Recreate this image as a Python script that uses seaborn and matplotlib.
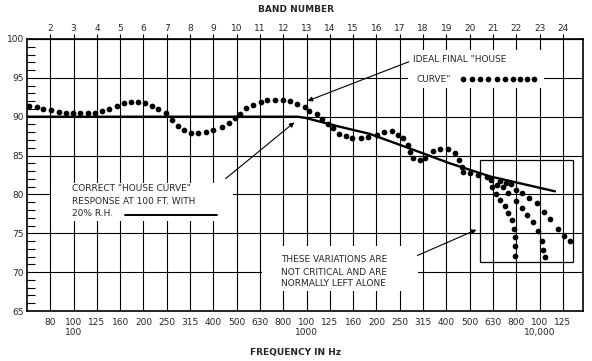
import numpy as np
import pandas as pd
import matplotlib
matplotlib.use('Agg')
import matplotlib.pyplot as plt
from matplotlib.patches import Rectangle
import seaborn as sns

sns.set_style('white')
plt.rcParams['font.family'] = ['DejaVu Sans']

# band numbers (top) and 1/3-octave centre frequencies (bottom)
bands = list(range(2, 25))
freq_labels = ['80', '100\n100', '125', '160', '200', '250', '315', '400', '500', '630', '800',
               '100\n1000', '125', '160', '200', '250', '315', '400', '500', '630', '800',
               '100\n10,000', '125']
db_ticks = list(range(65, 101, 5))

# correct "house curve" (solid line), x in band units
house_band = [1.0, 12.6, 12.95, 13.4, 14.3, 15.7, 17.35, 19.15, 20.9, 23.66]
house_db = [90.0, 90.0, 89.85, 89.5, 88.8, 87.8, 86.0, 84.0, 82.3, 80.4]

# measured response (dotted)
meas_band = [1.09, 1.42, 1.69, 2.03, 2.36, 2.67, 2.97, 3.27, 3.61, 3.92, 4.22, 4.52, 4.85,
             5.16, 5.46, 5.76, 6.06, 6.35, 6.62, 6.95, 7.21, 7.48, 7.74, 8.04, 8.34, 8.68,
             8.98, 9.36, 9.67, 9.91, 10.14, 10.40, 10.69, 11.03, 11.31, 11.64, 11.97, 12.29,
             12.57, 12.93, 13.10, 13.45, 13.65, 13.91, 14.13, 14.39, 14.68, 14.96, 15.33,
             15.65, 16.03, 16.33, 16.65, 16.91, 17.15, 17.35, 17.46, 17.58, 17.87, 18.08,
             18.44, 18.73, 19.05, 19.37, 19.55, 19.66, 19.73, 20.03, 20.37, 20.73, 20.91]
meas_db = [91.4, 91.2, 91.05, 90.8, 90.6, 90.5, 90.45, 90.45, 90.45, 90.45, 90.7, 91.0, 91.4,
           91.7, 91.9, 91.9, 91.8, 91.4, 91.05, 90.45, 89.6, 88.8, 88.3, 87.95, 87.9, 88.05,
           88.3, 88.7, 89.2, 89.8, 90.4, 91.1, 91.5, 91.95, 92.1, 92.2, 92.2, 92.0,
           91.6, 91.3, 90.75, 90.3, 89.75, 89.0, 88.5, 87.8, 87.55, 87.25, 87.25,
           87.4, 87.7, 88.05, 88.15, 87.65, 87.2, 86.3, 85.5, 84.7, 84.45, 84.75,
           85.6, 85.9, 85.9, 85.3, 84.4, 83.5, 82.9, 82.75, 82.5, 82.2, 81.9]

# high-frequency roll-off variations
var_a_band = [20.98, 21.15, 21.30, 21.52, 21.66, 21.80, 21.90, 21.93, 21.94, 21.94]
var_a_db = [80.9, 80.0, 79.3, 78.5, 77.6, 76.7, 75.6, 74.5, 73.3, 72.1]
var_b_band = [21.17, 21.44, 21.66, 21.99, 22.23, 22.47, 22.73, 22.92, 23.09, 23.16, 23.23]
var_b_db = [81.2, 80.9, 80.2, 79.2, 78.2, 77.3, 76.4, 75.3, 74.0, 72.9, 71.9]
var_c_band = [21.30, 21.54, 21.77, 21.99, 22.23, 22.56, 22.88, 23.20, 23.45, 23.78, 24.07, 24.30]
var_c_db = [81.7, 81.5, 81.3, 80.6, 80.2, 79.6, 78.9, 77.75, 76.9, 75.6, 74.7, 74.05]

# legend samples
key_dots_band = [19.73, 20.09, 20.45, 20.80, 21.16, 21.52, 21.87, 22.16, 22.47, 22.76]
key_dots_db = [94.8] * 10

dots = pd.concat([
    pd.DataFrame({'band': meas_band, 'db': meas_db}),
    pd.DataFrame({'band': var_a_band, 'db': var_a_db}),
    pd.DataFrame({'band': var_b_band, 'db': var_b_db}),
    pd.DataFrame({'band': var_c_band, 'db': var_c_db}),
    pd.DataFrame({'band': key_dots_band, 'db': key_dots_db}),
])

fig = plt.figure(figsize=(5.92, 3.61), dpi=100)
ax = fig.add_axes([0.0456, 0.1385, 0.939, 0.7535])
ax.set_xlim(1, 24.86)
ax.set_ylim(65, 100)

# grid
ax.set_xticks(bands)
ax.set_xticklabels(freq_labels, fontsize=6.5)
ax.set_yticks(db_ticks)
ax.set_yticklabels([str(v) for v in db_ticks], fontsize=6.5)
ax.set_yticks(range(65, 101), minor=True)
ax.tick_params(axis='x', length=0, pad=5)
ax.tick_params(axis='y', which='major', length=0, pad=2)
ax.tick_params(axis='y', which='minor', left=True, direction='in', length=5.5, width=0.8, color='black')
ax.grid(True, which='major', color='black', lw=0.8)
ax.set_axisbelow(True)
for s in ax.spines.values():
    s.set_color('black')
    s.set_linewidth(1.2)

top = ax.secondary_xaxis('top')
top.set_xticks(bands)
top.set_xticklabels([str(b) for b in bands], fontsize=6.5)
top.tick_params(length=3.5, width=0.8, pad=1, color='black', top=True)

# white gaps behind the notes
for (x0, y0, w, h) in [(2.05, 76.6, 7.8, 4.9), (17.35, 93.7, 5.84, 4.9), (11.1, 67.6, 6.7, 5.8)]:
    ax.add_patch(Rectangle((x0, y0), w, h, facecolor='white', edgecolor='none', zorder=1))

sns.lineplot(x=house_band, y=house_db, color='black', lw=1.7, sort=False, ax=ax, zorder=3)
sns.scatterplot(data=dots, x='band', y='db', color='black', s=17, linewidth=0, ax=ax, zorder=4)
ax.set_xlabel('')
ax.set_ylabel('')

# box around variations
ax.add_patch(Rectangle((20.44, 71.3), 3.99, 13.07, fill=False, edgecolor='black', lw=0.9, zorder=2))

# legend line for solid curve
ax.plot([5.2, 9.14], [77.35, 77.35], color='black', lw=1.4, zorder=3)

txt = dict(fontsize=6.5, ha='left', va='center', zorder=5)
ax.text(17.57, 97.3, 'IDEAL FINAL "HOUSE', **txt)
ax.text(17.7, 94.8, 'CURVE"', **txt)
ax.text(2.93, 80.8, 'CORRECT "HOUSE CURVE"', **txt)
ax.text(2.93, 79.1, 'RESPONSE AT 100 FT. WITH', **txt)
ax.text(2.93, 77.6, '20% R.H.', **txt)
ax.text(11.9, 71.6, 'THESE VARIATIONS ARE', **txt)
ax.text(11.9, 70.0, 'NOT CRITICAL AND ARE', **txt)
ax.text(11.9, 68.5, 'NORMALLY LEFT ALONE', **txt)

arrow = dict(arrowstyle='-|>', lw=0.8, color='black', mutation_scale=7)
ax.annotate('', xy=(12.93, 91.9), xytext=(17.5, 97.2), arrowprops=arrow, zorder=5)
ax.annotate('', xy=(12.57, 89.5), xytext=(9.43, 81.8), arrowprops=arrow, zorder=5)
ax.annotate('', xy=(20.4, 75.6), xytext=(17.65, 72.0), arrowprops=arrow, zorder=5)

fig.text(296 / 592, 1 - 10 / 361, 'BAND NUMBER', ha='center', va='center', fontsize=6.5, fontweight='bold')
fig.text(296 / 592, 1 - 352 / 361, 'FREQUENCY IN Hz', ha='center', va='center', fontsize=6.5, fontweight='bold')

fig.savefig('out.png', dpi=100)
